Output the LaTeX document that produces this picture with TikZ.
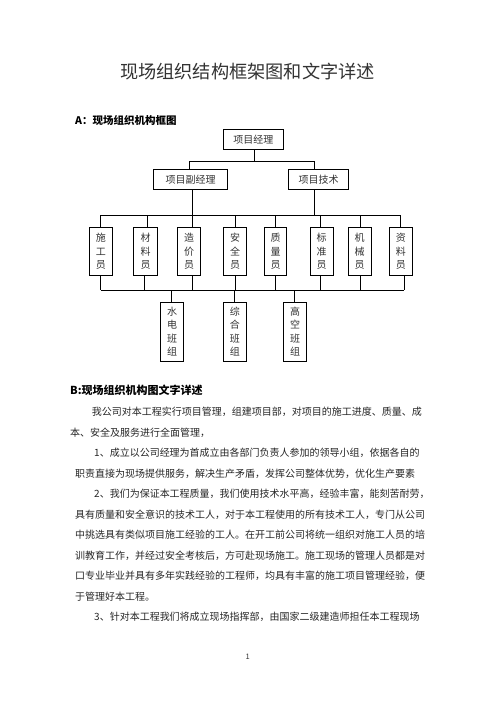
\documentclass[tikz,border=0pt]{standalone}
\usepackage{fontspec}
\setmainfont{Noto Sans CJK SC}
\usetikzlibrary{calc}
\XeTeXlinebreaklocale "zh"
\XeTeXlinebreakskip=0pt plus 1pt minus 0.4pt
\begin{document}
\begin{tikzpicture}[x=1pt,y=-1pt,
  box/.style={draw=black, line width=0.8pt, inner sep=0pt, minimum height=20pt,
    font=\fontsize{10}{12}\selectfont, text=black!80},
  vbox/.style={draw=black, line width=0.8pt, inner sep=0pt, minimum width=23pt,
    align=center, font=\fontsize{10}{13.4}\selectfont, text=black!80},
  conn/.style={line width=0.8pt, draw=black},
  body/.style={anchor=west, inner sep=0pt, font=\fontsize{10}{12}\selectfont, text=black!85},
  head/.style={anchor=west, inner sep=0pt, font=\fontsize{10.5}{12}\selectfont\bfseries, text=black}
]
\useasboundingbox[fill=white] (0,0) rectangle (496,702);

% title and heading A
\node[inner sep=0pt, font=\fontsize{18.2}{20}\selectfont, text=black!80] (title) at (247.5,72) {现场组织结构框架图和文字详述};
\node[head] (ha) at (75,120) {\hbox to 108pt{A：现场组织机构框图}};

% top levels
\node[box, minimum width=60pt] (pm) at (253.3,139.5) {项目经理};
\node[box, minimum width=74.4pt] (dpm) at (190.5,179.3) {项目副经理};
\node[box, minimum width=60.4pt] (tec) at (318.5,179.3) {项目技术};

% staff boxes
\node[vbox, minimum height=48pt] (s1) at (100.8,251.3) {施\\工\\员};
\node[vbox, minimum height=48pt, minimum width=24.4pt] (s2) at (145.5,251.3) {材\\料\\员};
\node[vbox, minimum height=48pt] (s3) at (189,251.3) {造\\价\\员};
\node[vbox, minimum height=48pt] (s4) at (235,251.3) {安\\全\\员};
\node[vbox, minimum height=48pt, minimum width=22.4pt] (s5) at (275.5,251.3) {质\\量\\员};
\node[vbox, minimum height=48pt] (s6) at (321.7,251.3) {标\\准\\员};
\node[vbox, minimum height=48pt, minimum width=22.7pt] (s7) at (359.7,251.3) {机\\械\\员};
\node[vbox, minimum height=48pt] (s8) at (400.8,251.3) {资\\料\\员};

% team boxes
\node[vbox, minimum height=58.7pt] (g1) at (172,331.7) {水\\电\\班\\组};
\node[vbox, minimum height=58.7pt] (g2) at (234.8,331.7) {综\\合\\班\\组};
\node[vbox, minimum height=58.7pt] (g3) at (295,331.7) {高\\空\\班\\组};

% bus levels
\coordinate (b1) at (0,161.7);
\coordinate (b2) at (0,215.3);
\coordinate (b3) at (0,290);

% connectors level 1
\draw[conn] ($(pm.south)+(1,0)$) -- ($(pm.south |- b1)+(1,0)$);
\draw[conn] ($(dpm.north)+(-1.2,0)$) -- ($(dpm.north |- b1)+(-1.2,0)$) -- ($(tec.north |- b1)+(-4.2,0)$) -- ($(tec.north)+(-4.2,0)$);

% connectors level 2
\draw[conn] ($(dpm.south)+(1.8,0)$) -- ($(dpm.south |- b2)+(1.8,0)$);
\draw[conn] ($(tec.south)+(-4.2,0)$) -- ($(tec.south |- b2)+(-4.2,0)$);
\draw[conn] (s1.north |- b2) -- (s8.north |- b2);
\draw[conn] (s1.north) -- (s1.north |- b2);
\draw[conn] ($(s2.north)+(2.2,0)$) -- ($(s2.north |- b2)+(2.2,0)$);
\draw[conn] ($(s3.north)+(3.3,0)$) -- ($(s3.north |- b2)+(3.3,0)$);
\draw[conn] (s4.north) -- (s4.north |- b2);
\draw[conn] (s5.north) -- (s5.north |- b2);
\draw[conn] ($(s6.north)+(-1,0)$) -- ($(s6.north |- b2)+(-1,0)$);
\draw[conn] ($(s7.north)+(0.6,0)$) -- ($(s7.north |- b2)+(0.6,0)$);
\draw[conn] (s8.north) -- (s8.north |- b2);

% connectors level 3
\draw[conn] (s1.south |- b3) -- ($(s8.south |- b3)+(3.2,0)$);
\draw[conn] (s1.south) -- (s1.south |- b3);
\draw[conn] ($(s2.south)+(-1.2,0)$) -- ($(s2.south |- b3)+(-1.2,0)$);
\draw[conn] ($(s3.south)+(3.3,0)$) -- ($(s3.south |- b3)+(3.3,0)$);
\draw[conn] (s4.south) -- (s4.south |- b3);
\draw[conn] (s5.south) -- (s5.south |- b3);
\draw[conn] ($(s6.south)+(-1,0)$) -- ($(s6.south |- b3)+(-1,0)$);
\draw[conn] ($(s7.south)+(0.6,0)$) -- ($(s7.south |- b3)+(0.6,0)$);
\draw[conn] ($(s8.south)+(3.2,0)$) -- ($(s8.south |- b3)+(3.2,0)$);
\draw[conn] ($(g1.north |- b3)+(-0.3,0)$) -- ($(g1.north)+(-0.3,0)$);
\draw[conn] (g2.north |- b3) -- (g2.north);
\draw[conn] ($(g3.north |- b3)+(-0.7,0)$) -- ($(g3.north)+(-0.7,0)$);

% heading B and body text
\node[head, font=\fontsize{11}{12}\selectfont\bfseries] (hb) at (70,390) {\hbox to 135pt{B:现场组织机构图文字详述}};
\node[body] (l1) at (91.7,412) {\hbox to 328.3pt{我公司对本工程实行项目管理，组建项目部，对项目的施工进度、质量、成}};
\node[body] (l2) at (70,432.5) {本、安全及服务进行全面管理，};
\node[body] (l3) at (94,453) {\hbox to 326pt{1、成立以公司经理为首成立由各部门负责人参加的领导小组，依据各自的}};
\node[body] (l4) at (75,473.5) {\hbox to 343pt{职责直接为现场提供服务，解决生产矛盾，发挥公司整体优势，优化生产要素}};
\node[body] (l5) at (94,494) {\hbox to 326pt{2、我们为保证本工程质量，我们使用技术水平高，经验丰富，能刻苦耐劳，}};
\node[body] (l6) at (75,514.5) {\hbox to 345pt{具有质量和安全意识的技术工人，对于本工程使用的所有技术工人，专门从公司}};
\node[body] (l7) at (75,535) {\hbox to 345pt{中挑选具有类似项目施工经验的工人。在开工前公司将统一组织对施工人员的培}};
\node[body] (l8) at (75,555.5) {\hbox to 345pt{训教育工作，并经过安全考核后，方可赴现场施工。施工现场的管理人员都是对}};
\node[body] (l9) at (75,576) {\hbox to 345pt{口专业毕业并具有多年实践经验的工程师，均具有丰富的施工项目管理经验，便}};
\node[body] (l10) at (75,596.5) {于管理好本工程。};
\node[body] (l11) at (94,617) {\hbox to 326pt{3、针对本工程我们将成立现场指挥部，由国家二级建造师担任本工程现场}};

% page number
\node[inner sep=0pt, font=\fontsize{7.5}{9}\selectfont, text=black!80] (pg) at (247.7,657) {1};
\end{tikzpicture}
\end{document}
